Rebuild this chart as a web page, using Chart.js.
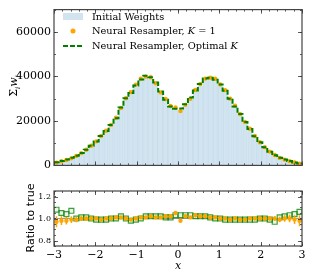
<!DOCTYPE html>
<html>
<head>
<meta charset="utf-8">
<script src="https://cdn.jsdelivr.net/npm/chart.js@4.4.0/dist/chart.umd.min.js"></script>
<style>
  body { margin: 0; background: #fff; width: 310px; height: 276px; overflow: hidden; position: relative; }
  #top { position: absolute; left: 0; top: 0; width: 310px; height: 175px; }
  #bot { position: absolute; left: 0; top: 176px; width: 310px; height: 100px; }
</style>
</head>
<body>
<div id="top"><canvas id="c1"></canvas></div>
<div id="bot"><canvas id="c2"></canvas></div>
<script>
// bin centres, 50 bins on [-3, 3]
var binCenters = [-2.94,-2.82,-2.70,-2.58,-2.46,-2.34,-2.22,-2.10,-1.98,-1.86,
                  -1.74,-1.62,-1.50,-1.38,-1.26,-1.14,-1.02,-0.90,-0.78,-0.66,
                  -0.54,-0.42,-0.30,-0.18,-0.06, 0.06, 0.18, 0.30, 0.42, 0.54,
                   0.66, 0.78, 0.90, 1.02, 1.14, 1.26, 1.38, 1.50, 1.62, 1.74,
                   1.86, 1.98, 2.10, 2.22, 2.34, 2.46, 2.58, 2.70, 2.82, 2.94];

var initialWeights = [1300,1900,2500,3200,4300,5500,7000,8800,10800,13300,
                      15600,18200,21200,25500,30200,33200,36300,38600,39500,38800,
                      36500,32500,29200,26200,24800,24900,26700,29600,32900,35900,
                      38200,39000,38500,36400,33800,30300,26800,23300,19700,16500,
                      13200,10400,8200,6200,4700,3400,2600,1900,1300,800];

var resamplerK1 = [1260,1860,2450,3170,4260,5500,7000,8800,10800,13200,
                   15600,18200,21400,25800,30200,32900,36300,39000,39900,39600,
                   36900,32800,29800,26700,26000,24400,27200,29900,33900,36600,
                   39000,39400,38900,36400,33800,30000,26800,23100,19500,16500,
                   13200,10400,8200,6200,4700,3370,2600,1900,1290,780];

var resamplerOptK = [1400,2000,2600,3420,4300,5550,7070,8800,10700,13200,
                     15400,18200,21200,26000,30200,32500,35900,38600,40300,39600,
                     37200,33200,29500,26500,25500,25600,27500,30500,33600,36600,
                     39000,39400,38500,36400,33500,30000,26500,23100,19500,16300,
                     13100,10400,8200,6150,4560,3430,2650,1960,1350,850];

var ratioK1 = [0.97,0.98,0.98,0.99,0.99,1.00,1.00,1.00,1.00,0.99,
               1.00,1.00,1.01,1.01,1.00,0.99,1.00,1.01,1.01,1.02,
               1.01,1.01,1.02,1.02,1.05,0.98,1.02,1.01,1.03,1.02,
               1.02,1.01,1.01,1.00,1.00,0.99,1.00,0.99,0.99,1.00,
               1.00,1.00,1.00,1.00,1.00,0.99,1.00,1.00,0.99,0.98];

var ratioK1Err = [0.05,0.04,0.035,0.03,0.025,0.02,0.018,0.015,0.013,0.012,
                  0.011,0.01,0.01,0.009,0.008,0.008,0.008,0.008,0.008,0.008,
                  0.008,0.008,0.008,0.009,0.009,0.009,0.009,0.008,0.008,0.008,
                  0.008,0.008,0.008,0.008,0.008,0.008,0.009,0.01,0.01,0.011,
                  0.012,0.013,0.015,0.018,0.02,0.025,0.03,0.035,0.04,0.05];

var ratioOptK = [1.08,1.05,1.04,1.07,1.00,1.01,1.01,1.00,0.99,0.99,
                 0.99,1.00,1.00,1.02,1.00,0.98,0.99,1.00,1.02,1.02,
                 1.02,1.02,1.01,1.01,1.03,1.03,1.03,1.03,1.02,1.02,
                 1.02,1.01,1.00,1.00,0.99,0.99,0.99,0.99,0.99,0.99,
                 0.99,1.00,1.00,0.99,0.97,1.01,1.02,1.03,1.04,1.06];

var xTicks = [-3, -2, -1, 0, 1, 2, 3];
var yTicksTop = [0, 20000, 40000, 60000];
var yTicksRatio = [0.8, 1.0, 1.2];

var orange = '#ffa500';
var green = '#008000';
var blueFill = 'rgba(31,119,180,0.2)';
var serif = '"DejaVu Serif", serif';

function pts(vals) {
    return binCenters.map(function(c, i) { return {x: c, y: vals[i]}; });
}
function stepPts(vals) {
    var p = pts(vals);
    p.unshift({x: -3, y: vals[0]});
    p.push({x: 3, y: vals[vals.length - 1]});
    return p;
}
function minus(v) { return String(v).replace('-', '\u2212'); }

// inward ticks on all four sides + frame, matplotlib style
var frameTicks = {
    id: 'frameTicks',
    afterDatasetsDraw: function(chart, args, o) {
        var ctx = chart.ctx, a = chart.chartArea, x = chart.scales.x, y = chart.scales.y;
        ctx.save();
        ctx.strokeStyle = '#333';
        ctx.lineWidth = 0.8;
        ctx.beginPath();
        function xt(v, len) {
            var p = Math.round(x.getPixelForValue(v)) + 0.5;
            ctx.moveTo(p, a.bottom); ctx.lineTo(p, a.bottom - len);
            ctx.moveTo(p, a.top); ctx.lineTo(p, a.top + len);
        }
        function yt(v, len) {
            var p = Math.round(y.getPixelForValue(v)) + 0.5;
            ctx.moveTo(a.left, p); ctx.lineTo(a.left + len, p);
            ctx.moveTo(a.right, p); ctx.lineTo(a.right - len, p);
        }
        var v;
        for (v = -3; v <= 3.001; v += 0.2) xt(v, 2);
        xTicks.forEach(function(t) { xt(t, 4); });
        for (v = o.yMin; v <= o.yMax + 1e-9; v += o.yMinor) yt(v, 2);
        o.yMajor.forEach(function(t) { yt(t, 4); });
        ctx.stroke();
        ctx.strokeStyle = '#444';
        ctx.lineWidth = 1.2;
        ctx.strokeRect(a.left, a.top, a.width, a.height);
        ctx.restore();
    }
};

// legend and y title for the top panel
var topDecor = {
    id: 'topDecor',
    afterDraw: function(chart) {
        var ctx = chart.ctx;
        ctx.save();
        ctx.fillStyle = blueFill;
        ctx.fillRect(63, 13, 20, 7);
        ctx.fillStyle = orange;
        ctx.beginPath(); ctx.arc(73, 31, 2.5, 0, Math.PI * 2); ctx.fill();
        ctx.strokeStyle = green; ctx.lineWidth = 2; ctx.setLineDash([5, 2]);
        ctx.beginPath(); ctx.moveTo(63, 46); ctx.lineTo(84, 46); ctx.stroke();
        ctx.setLineDash([]);

        ctx.fillStyle = '#000';
        ctx.textBaseline = 'middle';
        var fn = '9.8px ' + serif, fi = 'italic 9.8px ' + serif;
        function seq(parts, x, y) {
            parts.forEach(function(p) {
                ctx.font = p[1] ? fi : fn;
                ctx.fillText(p[0], x, y);
                x += ctx.measureText(p[0]).width;
            });
        }
        seq([['Initial Weights']], 92, 17);
        seq([['Neural Resampler, '], ['K', 1], [' = 1']], 92, 31);
        seq([['Neural Resampler, Optimal '], ['K', 1]], 92, 46);

        // Σ_i w_i rotated
        ctx.translate(13, 86);
        ctx.rotate(-Math.PI / 2);
        var big = '11px ' + serif, small = 'italic 7px ' + serif, it = 'italic 11px ' + serif;
        var parts = [['\u03a3', big, 0], ['i', small, 3], ['w', it, 0], ['i', small, 3]];
        var w = 0;
        parts.forEach(function(p) { ctx.font = p[1]; w += ctx.measureText(p[0]).width; });
        var cx = -w / 2;
        ctx.textBaseline = 'alphabetic';
        parts.forEach(function(p) {
            ctx.font = p[1];
            ctx.fillText(p[0], cx, 4 + p[2]);
            cx += ctx.measureText(p[0]).width;
        });
        ctx.restore();
    }
};

// error bars for K=1 ratio, titles for the bottom panel
var botDecor = {
    id: 'botDecor',
    beforeDatasetDraw: function(chart, args) {
        if (args.index !== 0) return;
        var ctx = chart.ctx, x = chart.scales.x, y = chart.scales.y;
        ctx.save();
        ctx.strokeStyle = orange;
        ctx.lineWidth = 1.5;
        ctx.beginPath();
        binCenters.forEach(function(c, i) {
            var px = x.getPixelForValue(c);
            ctx.moveTo(px, y.getPixelForValue(ratioK1[i] - ratioK1Err[i]));
            ctx.lineTo(px, y.getPixelForValue(ratioK1[i] + ratioK1Err[i]));
        });
        ctx.stroke();
        ctx.restore();
    },
    afterDraw: function(chart) {
        var ctx = chart.ctx, a = chart.chartArea;
        ctx.save();
        ctx.fillStyle = '#000';
        ctx.textAlign = 'center';
        ctx.textBaseline = 'middle';
        ctx.font = 'italic 11px ' + serif;
        ctx.fillText('x', (a.left + a.right) / 2, 90);
        ctx.translate(31, 42);
        ctx.rotate(-Math.PI / 2);
        ctx.font = '11px "DejaVu Sans", sans-serif';
        ctx.fillText('Ratio to true', 0, 0);
        ctx.restore();
    }
};

new Chart(document.getElementById('c1'), {
    type: 'bar',
    data: {
        datasets: [
            {
                type: 'line',
                data: stepPts(resamplerOptK),
                stepped: 'middle',
                borderColor: green,
                borderWidth: 2,
                borderDash: [5, 2],
                pointRadius: 0,
                fill: false
            },
            {
                type: 'line',
                data: pts(resamplerK1),
                showLine: false,
                pointRadius: 2.2,
                pointBackgroundColor: orange,
                pointBorderWidth: 0
            },
            {
                type: 'bar',
                data: pts(initialWeights),
                backgroundColor: blueFill,
                borderColor: 'rgba(31,119,180,0.08)',
                borderWidth: 0.5,
                barPercentage: 1,
                categoryPercentage: 1
            }
        ]
    },
    options: {
        responsive: true,
        maintainAspectRatio: false,
        animation: false,
        events: [],
        layout: { padding: { left: 0, right: 8, top: 5, bottom: 0 } },
        plugins: {
            legend: { display: false },
            tooltip: { enabled: false },
            frameTicks: { yMin: 0, yMax: 70000, yMinor: 10000, yMajor: yTicksTop }
        },
        scales: {
            x: {
                type: 'linear', min: -3, max: 3, offset: false,
                grid: { display: false }, border: { display: false },
                ticks: { display: false },
                afterFit: function(s) { s.height = 6; }
            },
            y: {
                min: 0, max: 70000,
                grid: { display: false, drawTicks: false }, border: { display: false },
                afterBuildTicks: function(s) { s.ticks = yTicksTop.map(function(v) { return {value: v}; }); },
                ticks: { color: '#000', padding: 3, font: { family: serif, size: 11 },
                         callback: function(v) { return String(v); } },
                afterFit: function(s) { s.width = 54; }
            }
        }
    },
    plugins: [frameTicks, topDecor]
});

new Chart(document.getElementById('c2'), {
    type: 'line',
    data: {
        datasets: [
            {
                data: pts(ratioK1),
                showLine: false,
                pointRadius: 2.2,
                pointBackgroundColor: orange,
                pointBorderWidth: 0
            },
            {
                data: pts(ratioOptK),
                showLine: false,
                pointStyle: 'rect',
                pointRadius: 3.5,
                pointBackgroundColor: 'rgba(0,128,0,0.08)',
                pointBorderColor: 'rgba(0,128,0,0.75)',
                pointBorderWidth: 1.2
            },
            {
                data: [{x: -3, y: 1}, {x: 3, y: 1}],
                borderColor: '#999',
                borderWidth: 1,
                pointRadius: 0
            }
        ]
    },
    options: {
        responsive: true,
        maintainAspectRatio: false,
        animation: false,
        events: [],
        layout: { padding: { left: 0, right: 8, top: 15, bottom: 0 } },
        plugins: {
            legend: { display: false },
            tooltip: { enabled: false },
            frameTicks: { yMin: 0.75, yMax: 1.25, yMinor: 0.05, yMajor: yTicksRatio }
        },
        scales: {
            x: {
                type: 'linear', min: -3, max: 3,
                grid: { display: false, drawTicks: false }, border: { display: false },
                afterBuildTicks: function(s) { s.ticks = xTicks.map(function(v) { return {value: v}; }); },
                ticks: { color: '#000', padding: 3, maxRotation: 0, font: { family: serif, size: 11 },
                         callback: function(v) { return minus(v); } },
                afterFit: function(s) { s.height = 30; }
            },
            y: {
                min: 0.75, max: 1.25,
                grid: { display: false, drawTicks: false }, border: { display: false },
                afterBuildTicks: function(s) { s.ticks = yTicksRatio.map(function(v) { return {value: v}; }); },
                ticks: { color: '#000', padding: 3, font: { family: serif, size: 8 },
                         callback: function(v) { return v.toFixed(1); } },
                afterFit: function(s) { s.width = 54; }
            }
        }
    },
    plugins: [frameTicks, botDecor]
});
</script>
</body>
</html>
